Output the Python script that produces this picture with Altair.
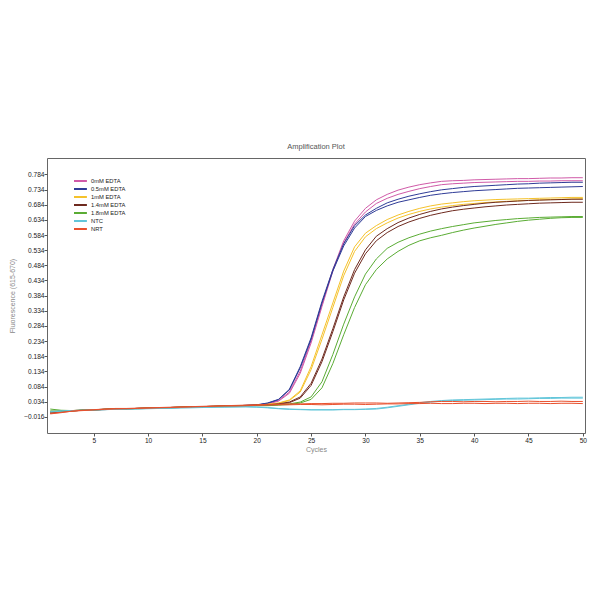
import altair as alt
import pandas as pd

cycles = list(range(1, 51))

# 0mM EDTA (pink) duplicates
edta0_a = [0.001,0.003,0.005,0.006,0.008,0.009,0.010,0.011,0.012,0.013,0.014,0.015,0.016,0.017,0.018,0.019,0.020,0.021,0.022,0.023,
           0.028,0.038,0.066,0.135,0.235,0.355,0.470,0.565,0.630,0.672,0.700,0.718,0.732,0.742,0.750,0.756,0.761,0.763,0.764,0.766,
           0.767,0.768,0.769,0.770,0.770,0.771,0.772,0.772,0.773,0.773]
edta0_b = [-0.002,0.002,0.004,0.006,0.007,0.009,0.010,0.011,0.012,0.013,0.013,0.014,0.016,0.017,0.017,0.018,0.019,0.021,0.022,0.023,
           0.027,0.036,0.062,0.128,0.228,0.348,0.465,0.558,0.620,0.660,0.688,0.705,0.718,0.728,0.737,0.744,0.750,0.753,0.755,0.757,
           0.758,0.759,0.760,0.761,0.761,0.762,0.762,0.763,0.763,0.763]
# 0.5mM EDTA (blue)
edta05_a = [0.000,0.003,0.005,0.006,0.008,0.009,0.010,0.011,0.012,0.013,0.014,0.015,0.016,0.017,0.018,0.019,0.020,0.021,0.022,0.024,
            0.030,0.042,0.075,0.150,0.245,0.365,0.470,0.555,0.615,0.650,0.672,0.690,0.702,0.712,0.720,0.727,0.733,0.737,0.741,0.744,
            0.746,0.748,0.750,0.752,0.753,0.755,0.756,0.757,0.758,0.758]
edta05_b = [-0.003,0.002,0.004,0.006,0.007,0.009,0.010,0.011,0.012,0.012,0.013,0.015,0.016,0.016,0.017,0.018,0.020,0.021,0.022,0.023,
            0.029,0.041,0.073,0.146,0.240,0.360,0.465,0.548,0.607,0.645,0.665,0.680,0.692,0.700,0.708,0.715,0.720,0.724,0.727,0.730,
            0.732,0.734,0.736,0.738,0.739,0.740,0.741,0.742,0.743,0.744]
# 1mM EDTA (yellow)
edta1_a = [0.002,0.004,0.005,0.007,0.008,0.009,0.010,0.011,0.012,0.013,0.014,0.015,0.016,0.017,0.018,0.019,0.020,0.021,0.022,0.023,
           0.026,0.030,0.040,0.070,0.150,0.255,0.360,0.465,0.545,0.590,0.615,0.635,0.650,0.662,0.672,0.680,0.686,0.690,0.694,0.697,
           0.699,0.701,0.702,0.703,0.704,0.705,0.706,0.707,0.708,0.708]
edta1_b = [-0.001,0.002,0.004,0.006,0.007,0.009,0.010,0.011,0.012,0.013,0.013,0.015,0.016,0.017,0.017,0.018,0.019,0.020,0.021,0.022,
           0.025,0.029,0.038,0.066,0.140,0.240,0.345,0.450,0.530,0.578,0.605,0.624,0.640,0.652,0.662,0.670,0.676,0.681,0.685,0.688,
           0.691,0.693,0.695,0.697,0.698,0.700,0.701,0.702,0.703,0.704]
# 1.4mM EDTA (brown)
edta14_a = [-0.004,0.001,0.004,0.006,0.008,0.009,0.010,0.011,0.012,0.013,0.014,0.015,0.016,0.017,0.018,0.019,0.020,0.021,0.022,0.023,
            0.024,0.027,0.033,0.050,0.095,0.175,0.275,0.380,0.470,0.535,0.580,0.605,0.625,0.640,0.652,0.662,0.670,0.676,0.681,0.685,
            0.689,0.692,0.694,0.696,0.698,0.699,0.700,0.701,0.702,0.702]
edta14_b = [0.000,0.003,0.005,0.006,0.007,0.008,0.010,0.011,0.012,0.012,0.013,0.014,0.015,0.016,0.017,0.018,0.019,0.020,0.021,0.022,
            0.023,0.026,0.031,0.046,0.088,0.166,0.265,0.370,0.458,0.522,0.565,0.592,0.612,0.627,0.639,0.649,0.657,0.664,0.669,0.673,
            0.677,0.680,0.683,0.685,0.687,0.689,0.690,0.691,0.692,0.692]
# 1.8mM EDTA (green)
edta18_a = [0.010,0.006,0.005,0.006,0.008,0.009,0.010,0.011,0.012,0.013,0.014,0.015,0.016,0.017,0.018,0.019,0.020,0.021,0.021,0.022,
            0.022,0.024,0.027,0.033,0.050,0.100,0.190,0.290,0.380,0.455,0.505,0.540,0.560,0.575,0.587,0.597,0.605,0.612,0.618,0.624,
            0.628,0.632,0.635,0.638,0.640,0.642,0.643,0.644,0.645,0.645]
edta18_b = [0.004,0.003,0.004,0.006,0.007,0.009,0.010,0.011,0.011,0.012,0.013,0.014,0.015,0.016,0.017,0.018,0.019,0.020,0.020,0.021,
            0.021,0.023,0.025,0.030,0.042,0.080,0.160,0.255,0.345,0.420,0.470,0.505,0.530,0.550,0.565,0.575,0.583,0.592,0.600,0.607,
            0.613,0.619,0.624,0.629,0.633,0.636,0.639,0.641,0.642,0.642]
# NTC (cyan)
ntc_a = [0.002,0.004,0.005,0.006,0.007,0.008,0.009,0.010,0.011,0.012,0.013,0.013,0.014,0.015,0.016,0.016,0.017,0.017,0.018,0.017,
         0.015,0.012,0.010,0.009,0.008,0.008,0.008,0.009,0.009,0.010,0.012,0.016,0.021,0.026,0.031,0.035,0.038,0.040,0.041,0.042,
         0.043,0.044,0.045,0.046,0.046,0.047,0.048,0.048,0.049,0.049]
ntc_b = [0.000,0.003,0.005,0.006,0.007,0.008,0.009,0.010,0.010,0.011,0.012,0.013,0.014,0.014,0.015,0.016,0.016,0.017,0.017,0.016,
         0.014,0.011,0.009,0.008,0.007,0.007,0.007,0.008,0.008,0.009,0.010,0.014,0.019,0.024,0.029,0.033,0.036,0.038,0.039,0.040,
         0.041,0.042,0.043,0.043,0.044,0.045,0.045,0.046,0.046,0.046]
# NRT (red)
nrt_a = [-0.006,-0.002,0.003,0.006,0.008,0.010,0.012,0.012,0.013,0.014,0.015,0.016,0.017,0.018,0.019,0.020,0.021,0.022,0.023,0.024,
         0.025,0.026,0.027,0.027,0.028,0.028,0.029,0.029,0.030,0.030,0.030,0.029,0.030,0.031,0.032,0.034,0.035,0.035,0.034,0.035,
         0.035,0.034,0.035,0.035,0.036,0.035,0.035,0.036,0.035,0.035]
nrt_b = [-0.004,-0.001,0.003,0.005,0.007,0.009,0.010,0.011,0.012,0.013,0.014,0.015,0.016,0.017,0.018,0.019,0.020,0.020,0.021,0.022,
         0.023,0.024,0.024,0.025,0.025,0.024,0.025,0.026,0.026,0.025,0.026,0.027,0.027,0.028,0.028,0.029,0.028,0.028,0.029,0.029,
         0.028,0.029,0.029,0.028,0.029,0.029,0.028,0.029,0.029,0.028]

labels = ["0mM EDTA", "0.5mM EDTA", "1mM EDTA", "1.4mM EDTA", "1.8mM EDTA", "NTC", "NRT"]
colors = ["#d05aa8", "#2f3c97", "#f5c22b", "#6e2a1f", "#5aac34", "#62c6da", "#e9502d"]
series = [
    ("0mM EDTA", "a", edta0_a), ("0mM EDTA", "b", edta0_b),
    ("0.5mM EDTA", "a", edta05_a), ("0.5mM EDTA", "b", edta05_b),
    ("1mM EDTA", "a", edta1_a), ("1mM EDTA", "b", edta1_b),
    ("1.4mM EDTA", "a", edta14_a), ("1.4mM EDTA", "b", edta14_b),
    ("1.8mM EDTA", "a", edta18_a), ("1.8mM EDTA", "b", edta18_b),
    ("NTC", "a", ntc_a), ("NTC", "b", ntc_b),
    ("NRT", "a", nrt_a), ("NRT", "b", nrt_b),
]
y_ticks = [round(0.784 - 0.05 * k, 3) for k in range(17)]
x_ticks = [5, 10, 15, 20, 25, 30, 35, 40, 45, 50]

rows = []
for lab, rep, vals in series:
    for c, v in zip(cycles, vals):
        rows.append({"sample": lab, "well": lab + rep, "cycle": c, "fluor": v})
df = pd.DataFrame(rows)

FONT = "Liberation Sans Narrow, Liberation Sans, Arial"

chart = alt.Chart(df).mark_line(strokeWidth=1.0, clip=True).encode(
    x=alt.X("cycle:Q", scale=alt.Scale(domain=[0.7, 50.2], nice=False, zero=False),
            axis=alt.Axis(values=x_ticks, title="Cycles", grid=False, domain=False,
                          tickSize=3, labelPadding=1, titlePadding=2)),
    y=alt.Y("fluor:Q", scale=alt.Scale(domain=[-0.069, 0.838], nice=False, zero=False),
            axis=alt.Axis(values=y_ticks, format=".3f", title="Fluorescence (615-670)", grid=False,
                          domain=False, tickSize=3, labelPadding=0, titlePadding=8)),
    color=alt.Color("sample:N", scale=alt.Scale(domain=labels, range=colors),
                    legend=alt.Legend(title=None, orient="none", legendX=26, legendY=19,
                                      symbolType="M-1,0H3.3", symbolSize=36, symbolStrokeWidth=2,
                                      labelOffset=10, rowPadding=0, padding=0,
                                      labelFontSize=5.8, labelFont=FONT, labelColor="#222")),
    detail="well:N",
    order="cycle:Q",
).properties(
    width=538, height=275,
    title=alt.TitleParams("Amplification Plot", fontSize=7.5, fontWeight="normal", color="#555",
                          font=FONT, offset=8),
    autosize=alt.AutoSizeParams(type="none"),
    padding={"left": 39, "top": 150, "right": 7, "bottom": 159},
).configure_view(
    stroke="#666", strokeWidth=1
).configure_axis(
    labelFont=FONT, labelFontSize=6.6, labelColor="#222", tickColor="#555",
    titleFont=FONT, titleFontSize=7, titleColor="#888", titleFontWeight="normal"
)

chart.save("out.html", embed_options={"renderer": "svg", "actions": False})
